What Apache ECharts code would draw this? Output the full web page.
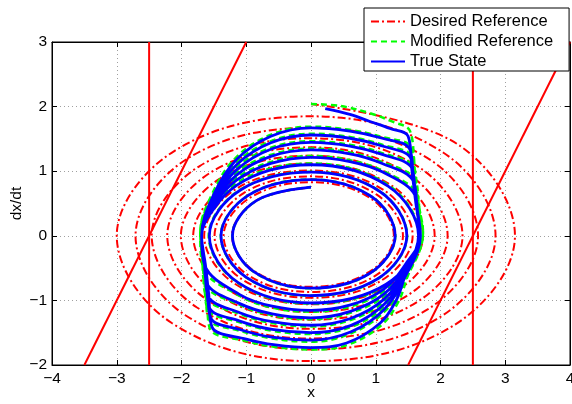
<!DOCTYPE html>
<html><head><meta charset="utf-8">
<script src="https://cdn.jsdelivr.net/npm/echarts@6/dist/echarts.min.js"></script>
<style>html,body{margin:0;padding:0;background:#fff}#c{width:572px;height:404px}</style>
</head><body><div id="c"></div>
<script>
// axis ticks
const xTicks = [-4, -3, -2, -1, 0, 1, 2, 3, 4];
const yTicks = [-2, -1, 0, 1, 2, 3];
const seriesNames = ['Desired Reference', 'Modified Reference', 'True State'];

// Desired reference spiral (x, dx/dt)
const desiredRef = [
[0,2.04],[2.26,1.42],[3.15,0],[2.20,-1.39],[0,-1.94],[-2.15,-1.35],[-3.00,0],[-2.10,1.32],
[0,1.85],[2.04,1.29],[2.85,0],[1.99,-1.26],[0,-1.76],[-1.94,-1.23],[-2.71,0],[-1.90,1.20],
[0,1.67],[1.85,1.17],[2.58,0],[1.80,-1.14],[0,-1.59],[-1.76,-1.11],[-2.46,0],[-1.72,1.08],
[0,1.51],[1.67,1.06],[2.34,0],[1.63,-1.03],[0,-1.44],[-1.59,-1.00],[-2.22,0],[-1.55,0.98],
[0,1.37],[1.51,0.95],[2.11,0],[1.48,-0.93],[0,-1.30],[-1.44,-0.91],[-2.01,0],[-1.40,0.89],
[0,1.24],[1.37,0.86],[1.91,0],[1.34,-0.84],[0,-1.18],[-1.30,-0.82],[-1.82,0],[-1.27,0.80],
[0,1.12],[1.24,0.78],[1.73,0],[1.21,-0.76],[0,-1.06],[-1.18,-0.74],[-1.65,0],[-1.15,0.73],
[0,1.01],[1.12,0.71],[1.57,0],[1.09,-0.69],[0,-0.96],[-1.07,-0.67],[-1.49,0],[-1.04,0.66],
[0,0.92],[1.01,0.64],[1.42,0],[0.99,-0.62],[0,-0.87],[-0.97,-0.61],[-1.35,0],[-0.94,0.59],
[0,0.83],[0.92,0.58],[1.28,0],[0.90,-0.56],[0,-0.79],[-0.87,-0.55],[-1.22,0],[-0.85,0.54],
[0,0.75]
];

// Modified reference (x, dx/dt)
const modifiedRef = [
[0,2.04],[0.45,2.01],[0.9,1.90],[1.25,1.77],[1.53,1.62],[1.60,1.0],[1.67,0.45],[1.73,0.05],
[1.48,-0.66],[1.35,-1.02],[1.09,-1.38],[0.56,-1.69],[0,-1.76],
[-0.55,-1.72],[-1.0,-1.63],[-1.56,-1.44],[-1.61,-0.9],[-1.66,-0.45],[-1.71,0.05],
[-1.52,0.66],[-1.17,1.20],[-0.63,1.56],[0,1.69],
[0.6,1.64],[1.1,1.53],[1.55,1.37],[1.61,0.9],[1.67,0.45],[1.73,0.05],
[1.48,-0.64],[1.15,-1.16],[0.62,-1.51],[0,-1.64],
[-0.6,-1.59],[-1.1,-1.47],[-1.58,-1.29],[-1.63,-0.8],[-1.675,-0.4],[-1.71,0.05],
[-1.52,0.62],[-1.17,1.12],[-0.63,1.46],[0,1.58],
[0.6,1.53],[1.1,1.41],[1.57,1.22],[1.615,0.8],[1.67,0.4],[1.73,0.05],
[1.48,-0.59],[1.15,-1.08],[0.62,-1.41],[0,-1.52],
[-0.6,-1.47],[-1.1,-1.34],[-1.60,-1.13],[-1.65,-0.6],[-1.685,-0.3],[-1.71,0.05],
[-1.52,0.57],[-1.17,1.04],[-0.63,1.36],[0,1.465],
[0.6,1.41],[1.1,1.28],[1.59,1.06],[1.64,0.6],[1.68,0.3],[1.73,0.05],
[1.48,-0.55],[1.15,-1.00],[0.62,-1.30],[0,-1.405],
[-0.6,-1.35],[-1.1,-1.21],[-1.62,-0.95],[-1.67,-0.45],[-1.71,0.05],
[-1.52,0.53],[-1.17,0.96],[-0.63,1.25],[0,1.35],
[0.6,1.29],[1.1,1.14],[1.61,0.87],[1.665,0.45],[1.73,0.05],
[1.48,-0.51],[1.15,-0.92],[0.62,-1.19],[0,-1.29],
[-0.6,-1.23],[-1.1,-1.07],[-1.64,-0.75],[-1.68,-0.35],[-1.71,0.05],
[-1.52,0.49],[-1.17,0.88],[-0.63,1.14],[0,1.235],
[0.6,1.17],[1.1,1.01],[1.64,0.64],[1.68,0.3],[1.73,0.05],
[1.48,-0.46],[1.15,-0.84],[0.62,-1.09],[0,-1.175],
[-0.6,-1.11],[-1.1,-0.93],[-1.67,-0.48],[-1.71,0.05],
[-1.52,0.44],[-1.17,0.80],[-0.63,1.04],[0,1.12],
[1.20,0.78],[1.67,0],[1.17,-0.76],[0,-1.05],
[-1.13,-0.73],[-1.58,0],[-1.10,0.71],[0,0.99],
[1.065,0.688],[1.485,0],[1.033,-0.667],[0,-0.928],
[-1.0,-0.646],[-1.393,0],[-0.971,0.627],[0,0.872],
[0.938,0.605],[1.302,0],[0.905,-0.584],[0,-0.812],
[-0.873,-0.564],[-1.214,0],[-0.844,0.545],[0,0.756]
];

// True state (x, dx/dt)
const trueState = [
[0.22,1.97],[0.60,1.88],[0.91,1.77],[1.22,1.66],[1.50,1.54],[1.56,1.0],[1.62,0.5],[1.69,0],
[1.45,-0.63],[1.32,-0.99],[1.07,-1.35],[0.55,-1.66],[0,-1.73],
[-0.55,-1.69],[-1.0,-1.60],[-1.53,-1.41],[-1.58,-0.9],[-1.63,-0.45],[-1.69,0],
[-1.50,0.64],[-1.15,1.18],[-0.62,1.54],[0,1.67],
[0.6,1.62],[1.1,1.51],[1.52,1.35],[1.58,0.9],[1.635,0.45],[1.69,0],
[1.46,-0.62],[1.13,-1.14],[0.61,-1.49],[0,-1.615],
[-0.6,-1.57],[-1.1,-1.45],[-1.55,-1.27],[-1.60,-0.8],[-1.645,-0.4],[-1.69,0],
[-1.50,0.60],[-1.15,1.10],[-0.62,1.44],[0,1.56],
[0.6,1.51],[1.1,1.39],[1.54,1.20],[1.585,0.8],[1.64,0.4],[1.69,0],
[1.46,-0.57],[1.13,-1.06],[0.61,-1.39],[0,-1.50],
[-0.6,-1.45],[-1.1,-1.32],[-1.57,-1.11],[-1.62,-0.6],[-1.655,-0.3],[-1.69,0],
[-1.50,0.55],[-1.15,1.02],[-0.62,1.34],[0,1.445],
[0.6,1.39],[1.1,1.26],[1.56,1.04],[1.61,0.6],[1.65,0.3],[1.69,0],
[1.46,-0.53],[1.13,-0.98],[0.61,-1.28],[0,-1.385],
[-0.6,-1.33],[-1.1,-1.19],[-1.59,-0.93],[-1.64,-0.45],[-1.69,0],
[-1.50,0.51],[-1.15,0.94],[-0.62,1.23],[0,1.33],
[0.6,1.27],[1.1,1.12],[1.58,0.85],[1.635,0.45],[1.69,0],
[1.46,-0.49],[1.13,-0.90],[0.61,-1.17],[0,-1.27],
[-0.6,-1.21],[-1.1,-1.05],[-1.61,-0.73],[-1.65,-0.35],[-1.69,0],
[-1.50,0.47],[-1.15,0.86],[-0.62,1.12],[0,1.215],
[0.6,1.15],[1.1,0.99],[1.61,0.62],[1.65,0.3],[1.69,0],
[1.46,-0.44],[1.13,-0.82],[0.61,-1.07],[0,-1.155],
[-0.6,-1.09],[-1.1,-0.91],[-1.64,-0.46],[-1.69,0],
[-1.50,0.42],[-1.15,0.78],[-0.62,1.02],[0,1.10],
[1.19,0.77],[1.66,0],[1.16,-0.75],[0,-1.04],
[-1.125,-0.725],[-1.57,0],[-1.095,0.706],[0,0.985],
[1.063,0.686],[1.48,0],[1.03,-0.665],[0,-0.925],
[-0.998,-0.644],[-1.39,0],[-0.969,0.625],[0,0.87],
[0.937,0.604],[1.30,0],[0.904,-0.583],[0,-0.81],
[-0.872,-0.563],[-1.213,0],[-0.843,0.544],[0,0.755]
];

// Constraint lines
const limitLeft = [[-2.5,-2],[-2.5,3]];
const limitRight = [[2.5,-2],[2.5,3]];
const slantLeft = [[-3.5,-2],[-1,3]];
const slantRight = [[1.5,-2],[4,3]];

const FONT = "'Liberation Sans', Arial, Helvetica, sans-serif";
const fmt = v => (v < 0 ? '\u2212' + Math.abs(v) : String(v));

function axisBase(min, max, ticks) {
  return {
    type: 'value', min: min, max: max, interval: ticks[1] - ticks[0],
    axisLine: { show: true, onZero: false, lineStyle: { color: '#000', width: 1 } },
    axisTick: { show: true, inside: true, length: 5, lineStyle: { color: '#000' } },
    splitLine: { show: false }
  };
}

const chart = echarts.init(document.getElementById('c'), null, { renderer: 'canvas' });
const lineStyleConstraint = { color: '#ff0000', width: 2 };
chart.setOption({
  animation: false,
  backgroundColor: '#fff',
  textStyle: { fontFamily: FONT },
  grid: { left: 52, right: 2, top: 42, bottom: 39, show: true, borderColor: '#000', borderWidth: 1,
          containLabel: false, outerBoundsMode: 'none' },
  xAxis: [
    Object.assign(axisBase(xTicks[0], xTicks[xTicks.length - 1], xTicks), {
      position: 'bottom',
      axisLabel: { color: '#000', fontSize: 15.5, margin: 6, formatter: fmt, fontFamily: FONT },
      splitLine: { show: true, lineStyle: { color: '#a0a0a0', type: [1, 3], width: 1 } },
      name: 'x', nameLocation: 'middle', nameGap: 20, nameMoveOverlap: false,
      nameTextStyle: { color: '#000', fontSize: 15.5, fontFamily: FONT }
    }),
    Object.assign(axisBase(xTicks[0], xTicks[xTicks.length - 1], xTicks), {
      position: 'top', axisLabel: { show: false }
    })
  ],
  yAxis: [
    Object.assign(axisBase(yTicks[0], yTicks[yTicks.length - 1], yTicks), {
      position: 'left',
      axisLabel: { color: '#000', fontSize: 15.5, margin: 5, formatter: fmt, fontFamily: FONT },
      splitLine: { show: true, lineStyle: { color: '#a0a0a0', type: [1, 3], width: 1 } },
      name: 'dx/dt', nameLocation: 'middle', nameGap: 27, nameRotate: 90, nameMoveOverlap: false,
      nameTextStyle: { color: '#000', fontSize: 15.5, fontFamily: FONT }
    }),
    Object.assign(axisBase(yTicks[0], yTicks[yTicks.length - 1], yTicks), {
      position: 'right', axisLabel: { show: false }
    })
  ],
  legend: {
    data: seriesNames,
    orient: 'vertical', left: 364, top: 8,
    backgroundColor: '#fff', borderColor: '#000', borderWidth: 1,
    padding: [5, 16, 1, 6], itemGap: 3, itemWidth: 34, itemHeight: 14,
    itemStyle: { opacity: 0 },
    textStyle: { color: '#000', fontSize: 16.5, fontFamily: FONT }
  },
  series: [
    { name: seriesNames[0], type: 'line', data: desiredRef, smooth: 0.37, symbol: 'none', showSymbol: false,
      lineStyle: { color: '#ff0000', width: 2, type: [8, 3, 2, 3] }, itemStyle: { color: '#ff0000' } },
    { name: seriesNames[1], type: 'line', data: modifiedRef, smooth: 0.37, symbol: 'none', showSymbol: false,
      lineStyle: { color: '#00ff00', width: 2.5, type: [6, 4] }, itemStyle: { color: '#00ff00' } },
    { name: seriesNames[2], type: 'line', data: trueState, smooth: 0.37, symbol: 'none', showSymbol: false,
      lineStyle: { color: '#0000ff', width: 2.8 }, itemStyle: { color: '#0000ff' } },
    { name: 'limL', type: 'line', data: limitLeft, symbol: 'none', lineStyle: lineStyleConstraint },
    { name: 'limR', type: 'line', data: limitRight, symbol: 'none', lineStyle: lineStyleConstraint },
    { name: 'slantL', type: 'line', data: slantLeft, symbol: 'none', lineStyle: lineStyleConstraint },
    { name: 'slantR', type: 'line', data: slantRight, symbol: 'none', lineStyle: lineStyleConstraint }
  ]
});
</script></body></html>
